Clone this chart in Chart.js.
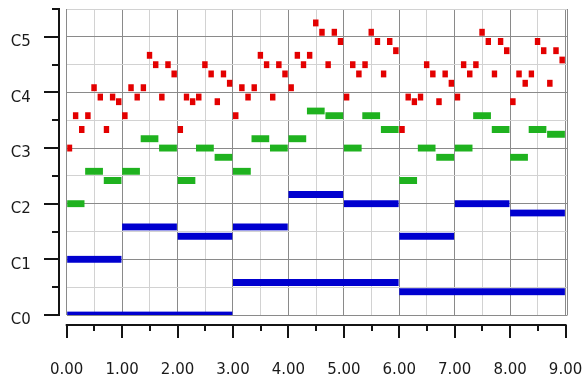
<!DOCTYPE html>
<html>
<head>
<meta charset="utf-8">
<title>Piano roll</title>
<script src="https://cdn.jsdelivr.net/npm/chart.js@4/dist/chart.umd.min.js"></script>
<style>
  html, body { margin: 0; padding: 0; background: #ffffff; }
  #roll { display: block; }
</style>
</head>
<body>
<canvas id="roll" width="585" height="379"></canvas>
<script>
// Pitches are semitones above C0, times are in beats.

// Bass voice
const bassStart  = [0, 0, 1, 2, 3, 3, 4, 5, 6, 6, 7, 8];
const bassLength = [3, 1, 1, 1, 1, 3, 1, 1, 1, 3, 1, 1];
const bassPitch  = [0, 12, 19, 17, 19, 7, 26, 24, 17, 5, 24, 22];

// Middle voice, triplets
const midStart = [
  0, 0.333, 0.667, 1, 1.333, 1.667, 2, 2.333, 2.667,
  3, 3.333, 3.667, 4, 4.333, 4.667, 5, 5.333, 5.667,
  6, 6.333, 6.667, 7, 7.333, 7.667, 8, 8.333, 8.667
];
const midLength = 0.333;
const midPitch = [
  24, 31, 29, 31, 38, 36, 29, 36, 34,
  31, 38, 36, 38, 44, 43, 36, 43, 40,
  29, 36, 34, 36, 43, 40, 34, 40, 39
];

// Melody, nine notes to the beat
const melStart = [
  0, 0.111, 0.222, 0.333, 0.444, 0.556, 0.667, 0.778, 0.889,
  1, 1.111, 1.222, 1.333, 1.444, 1.556, 1.667, 1.778, 1.889,
  2, 2.111, 2.222, 2.333, 2.444, 2.556, 2.667, 2.778, 2.889,
  3, 3.111, 3.222, 3.333, 3.444, 3.556, 3.667, 3.778, 3.889,
  4, 4.111, 4.222, 4.333, 4.444, 4.556, 4.667, 4.778, 4.889,
  5, 5.111, 5.222, 5.333, 5.444, 5.556, 5.667, 5.778, 5.889,
  6, 6.111, 6.222, 6.333, 6.444, 6.556, 6.667, 6.778, 6.889,
  7, 7.111, 7.222, 7.333, 7.444, 7.556, 7.667, 7.778, 7.889,
  8, 8.111, 8.222, 8.333, 8.444, 8.556, 8.667, 8.778, 8.889
];
const melLength = 0.111;
const melPitch = [
  36, 43, 40, 43, 49, 47, 40, 47, 46,
  43, 49, 47, 49, 56, 54, 47, 54, 52,
  40, 47, 46, 47, 54, 52, 46, 52, 50,
  43, 49, 47, 49, 56, 54, 47, 54, 52,
  49, 56, 54, 56, 63, 61, 54, 61, 59,
  47, 54, 52, 54, 61, 59, 52, 59, 57,
  40, 47, 46, 47, 54, 52, 46, 52, 50,
  47, 54, 52, 54, 61, 59, 52, 59, 57,
  46, 52, 50, 52, 59, 57, 50, 57, 55
];

// Axis ticks (empty label = minor tick)
const timeTicks  = [0, 0.5, 1, 1.5, 2, 2.5, 3, 3.5, 4, 4.5, 5, 5.5, 6, 6.5, 7, 7.5, 8, 8.5, 9];
const timeLabels = ['0.00', '', '1.00', '', '2.00', '', '3.00', '', '4.00', '', '5.00', '', '6.00', '', '7.00', '', '8.00', '', '9.00'];
const pitchTicks  = [0, 6, 12, 18, 24, 30, 36, 42, 48, 54, 60, 66];
const pitchLabels = ['C0', '', 'C1', '', 'C2', '', 'C3', '', 'C4', '', 'C5', ''];

const TIME_MAX = 9.035;
const MAJOR_GRID = '#8a8a8a';
const MINOR_GRID = '#d2d2d2';
const AXIS_INK = '#141414';
const LABEL_FONT = { family: 'DejaVu Sans', size: 15 };

function noteBars(start, length, pitch) {
  return pitch.map((p, i) => ({
    x: [start[i], start[i] + (Array.isArray(length) ? length[i] : length)],
    y: p
  }));
}

function gridColour(labels) {
  return ctx => (labels[ctx.index] ? MAJOR_GRID : MINOR_GRID);
}

// fixed scale size, no extra room reserved for edge labels
function fixScale(size) {
  return s => {
    if (s.isHorizontal()) { s.height = size; } else { s.width = size; }
    s.paddingTop = 0; s.paddingBottom = 0; s.paddingLeft = 0; s.paddingRight = 0;
  };
}

// Axis lines and tick marks, set a little apart from the plot area
const detachedAxes = {
  id: 'detachedAxes',
  afterDraw(chart) {
    const { ctx, chartArea: area, scales: { x, y } } = chart;
    ctx.save();

    // frame edge on the right
    ctx.strokeStyle = MAJOR_GRID;
    ctx.lineWidth = 1;
    ctx.beginPath();
    const rx = Math.round(area.right) - 0.5;
    ctx.moveTo(rx, area.top);
    ctx.lineTo(rx, area.bottom);
    ctx.stroke();

    ctx.strokeStyle = AXIS_INK;
    ctx.lineWidth = 2;
    ctx.lineCap = 'butt';

    // vertical axis
    const ax = Math.round(area.left - 7.7);
    const yTop = y.getPixelForValue(pitchTicks[pitchTicks.length - 1]);
    const yBot = y.getPixelForValue(pitchTicks[0]);
    ctx.beginPath();
    ctx.moveTo(ax, yTop - 1);
    ctx.lineTo(ax, yBot + 1);
    pitchTicks.forEach((v, i) => {
      const py = Math.round(y.getPixelForValue(v));
      const len = pitchLabels[i] ? 15 : 7;
      ctx.moveTo(ax - len, py);
      ctx.lineTo(ax, py);
    });
    ctx.stroke();

    // horizontal axis
    const ay = Math.round(area.bottom + 10.3);
    const xL = x.getPixelForValue(timeTicks[0]);
    const xR = x.getPixelForValue(timeTicks[timeTicks.length - 1]);
    ctx.beginPath();
    ctx.moveTo(xL - 1, ay);
    ctx.lineTo(xR + 1, ay);
    timeTicks.forEach((v, i) => {
      const px = Math.round(x.getPixelForValue(v));
      const len = timeLabels[i] ? 13 : 6;
      ctx.moveTo(px, ay);
      ctx.lineTo(px, ay + len);
    });
    ctx.stroke();
    ctx.restore();
  }
};

const barStyle = {
  barThickness: 7,
  grouped: false,
  borderSkipped: false,
  borderWidth: { top: 0, right: 1, bottom: 0, left: 0 },
  borderColor: 'rgba(0,0,0,0)'
};

new Chart(document.getElementById('roll'), {
  type: 'bar',
  data: {
    datasets: [
      Object.assign({ label: 'Melody', data: noteBars(melStart, melLength, melPitch), backgroundColor: '#e30000' }, barStyle),
      Object.assign({ label: 'Middle', data: noteBars(midStart, midLength, midPitch), backgroundColor: '#1fb21f' }, barStyle),
      Object.assign({ label: 'Bass', data: noteBars(bassStart, bassLength, bassPitch), backgroundColor: '#0000cf' }, barStyle)
    ]
  },
  options: {
    indexAxis: 'y',
    responsive: false,
    animation: false,
    devicePixelRatio: 1,
    layout: { padding: { left: 0, top: 9, right: 17.5, bottom: 0 } },
    plugins: { legend: { display: false }, tooltip: { enabled: false } },
    scales: {
      x: {
        type: 'linear',
        min: 0,
        max: TIME_MAX,
        offset: false,
        afterBuildTicks: s => { s.ticks = timeTicks.map(v => ({ value: v })); },
        afterFit: fixScale(64),
        border: { display: false },
        grid: { color: gridColour(timeLabels), lineWidth: 1, drawTicks: false, offset: false },
        ticks: {
          callback: (v, i) => timeLabels[i],
          autoSkip: false,
          maxRotation: 0,
          padding: 46,
          color: '#1a1a1a',
          font: LABEL_FONT
        }
      },
      y: {
        type: 'linear',
        min: pitchTicks[0],
        max: pitchTicks[pitchTicks.length - 1],
        offset: false,
        afterBuildTicks: s => { s.ticks = pitchTicks.map(v => ({ value: v })); },
        afterFit: fixScale(66.7),
        border: { display: false },
        grid: { color: gridColour(pitchLabels), lineWidth: 1, drawTicks: false, offset: false },
        ticks: {
          callback: (v, i) => pitchLabels[i],
          autoSkip: false,
          padding: 36,
          labelOffset: 5.5,
          color: '#1a1a1a',
          font: LABEL_FONT
        }
      }
    }
  },
  plugins: [detachedAxes]
});
</script>
</body>
</html>
